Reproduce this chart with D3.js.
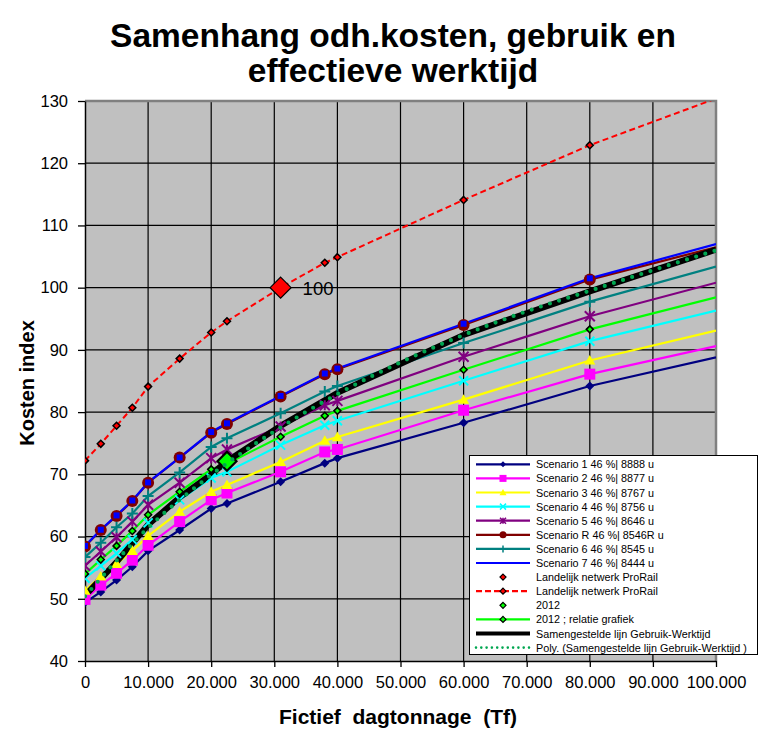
<!DOCTYPE html>
<html><head><meta charset="utf-8">
<script src="https://cdn.jsdelivr.net/npm/d3@7"></script>
<style>
html,body{margin:0;padding:0;background:#fff;}
svg{display:block;font-family:"Liberation Sans",Arial,sans-serif;}
</style></head>
<body>
<svg id="chart" width="766" height="746"></svg>
<script>
// ---------- DATA ----------
const xValues = [0, 2500, 5000, 7500, 10000, 15000, 20000, 22500, 31000, 38000, 40000, 60000, 80000, 100000];
const scenario1 = [49.4, 51.1, 53.0, 55.15, 57.7, 61.05, 64.5, 65.3, 68.8, 71.8, 72.6, 78.3, 84.2, 88.8];
const scenario2 = [49.9, 52.2, 54.1, 56.2, 58.6, 62.4, 65.9, 67.0, 70.4, 73.6, 74.0, 80.3, 86.1, 90.6];
const scenario3 = [51.3, 53.6, 55.6, 57.7, 60.1, 64.0, 67.2, 68.3, 72.0, 75.4, 76.0, 82.0, 88.3, 93.1];
const scenario4 = [53.3, 55.3, 57.3, 59.5, 62.2, 65.9, 69.4, 70.4, 74.7, 77.9, 78.6, 85.05, 91.4, 96.3];
const scenario5 = [55.3, 57.6, 59.9, 62.4, 65.1, 68.65, 72.6, 74.0, 77.7, 81.1, 81.8, 88.9, 95.4, 100.8];
const scenarioR = [58.4, 61.05, 63.3, 65.7, 68.65, 72.7, 76.7, 78.1, 82.5, 86.1, 86.9, 94.0, 101.3, 106.5];
const scenario6 = [56.7, 59.0, 61.5, 63.7, 66.5, 70.3, 74.4, 75.8, 79.8, 83.3, 84.2, 91.1, 97.75, 103.4];
const scenario7 = [58.5, 61.1, 63.4, 65.8, 68.7, 72.7, 76.8, 78.2, 82.6, 86.2, 87.0, 94.2, 101.5, 107.0];
const prorailLine = [72.2, 74.9, 77.8, 80.7, 84.1, 88.6, 92.8, 94.6, 100.0, 104.0, 104.9, 114.1, 122.9, 130.4];
const relatie2012 = [54.0, 56.3, 58.5, 60.9, 63.5, 67.2, 70.8, 71.7, 76.05, 79.4, 80.2, 86.8, 93.3, 98.45];
const prorailPoint = {x: 31000, y: 100, label: "100"};
const point2012 = {x: 22500, y: 72.1};
const samenX = [0, 5000, 10000, 15000, 20000, 22500, 31000, 40000, 60000, 80000, 100000];
const samenY = [50.5, 55.9, 61.9, 66.3, 70.0, 72.1, 77.8, 83.1, 92.4, 99.4, 106.1];
const polyX = [0, 10000, 20000, 30000, 40000, 50000, 60000, 70000, 80000, 90000, 100000];
const polyY = [50.4, 61.4, 69.9, 76.9, 82.9, 88.0, 92.4, 96.2, 99.5, 102.8, 106.0];
const xTicks = [0, 10000, 20000, 30000, 40000, 50000, 60000, 70000, 80000, 90000, 100000];
const xTickLabels = ["0","10.000","20.000","30.000","40.000","50.000","60.000","70.000","80.000","90.000","100.000"];
const yTicks = [40, 50, 60, 70, 80, 90, 100, 110, 120, 130];
const legendLabels = [
  "Scenario 1 46 %| 8888 u","Scenario 2 46 %| 8877 u","Scenario 3 46 %| 8767 u",
  "Scenario 4 46 %| 8756 u","Scenario 5 46 %| 8646 u","Scenario R 46 %| 8546R u",
  "Scenario 6 46 %| 8545 u","Scenario 7 46 %| 8444 u","Landelijk netwerk ProRail",
  "Landelijk netwerk ProRail","2012","2012 ; relatie grafiek",
  "Samengestelde lijn Gebruik-Werktijd","Poly. (Samengestelde lijn Gebruik-Werktijd )"];

// ---------- LAYOUT ----------
const svg = d3.select("#chart");
const L = 85, R = 716, T = 101, B = 661;
const x = d3.scaleLinear().domain([0, 100000]).range([L, R]);
const y = d3.scaleLinear().domain([40, 130]).range([B, T]);

function markerPath(type, s){
  const h = s/2;
  switch(type){
    case "diamond": return `M0,${-h}L${h},0L0,${h}L${-h},0Z`;
    case "square": return `M${-h},${-h}H${h}V${h}H${-h}Z`;
    case "triangle": return `M0,${-h}L${h},${h*0.75}L${-h},${h*0.75}Z`;
    case "x": return `M${-h},${-h}L${h},${h}M${h},${-h}L${-h},${h}`;
    case "star": return `M${-h},${-h}L${h},${h}M${h},${-h}L${-h},${h}M0,${-h}V${h}`;
    case "plus": return `M${-h},0H${h}M0,${-h}V${h}`;
    case "circle": return d3.symbol(d3.symbolCircle, Math.PI*h*h)();
  }
}
const isStroke = t => (t==="x"||t==="star"||t==="plus");

const series = [
  {vals: scenario1, color:"#000080", marker:"diamond", size:9},
  {vals: scenario2, color:"#ff00ff", marker:"square", size:11},
  {vals: scenario3, color:"#ffff00", marker:"triangle", size:11},
  {vals: scenario4, color:"#00ffff", marker:"x", size:9},
  {vals: scenario5, color:"#800080", marker:"star", size:10},
  {vals: scenarioR, color:"#800000", marker:"circle", size:12},
  {vals: scenario6, color:"#008080", marker:"plus", size:11},
  {vals: scenario7, color:"#0000ff", marker:"square", size:6},
  {vals: relatie2012, color:"#00ff00", marker:"diamond", size:7, outline:true},
];

// ---------- BACKGROUND / GRID ----------
svg.append("rect").attr("x",L).attr("y",T).attr("width",R-L).attr("height",B-T).attr("fill","#c0c0c0");
const grid = svg.append("g");
grid.selectAll("line.h").data(yTicks.filter(v=>v>40 && v<130)).join("line")
  .attr("x1",L).attr("x2",R).attr("y1",d=>y(d)).attr("y2",d=>y(d)).attr("stroke","#000").attr("stroke-width",1.2);
grid.selectAll("line.v").data(xTicks.filter(v=>v>0 && v<100000)).join("line")
  .attr("y1",T).attr("y2",B).attr("x1",d=>x(d)).attr("x2",d=>x(d)).attr("stroke","#000").attr("stroke-width",1.2);
svg.append("path").attr("d",`M${L},${T}H${R}V${B}`).attr("fill","none").attr("stroke","#808080").attr("stroke-width",2.5);

// ---------- AXES ----------
const yAxis = d3.axisLeft(y).tickValues(yTicks).tickSize(7).tickPadding(10).tickSizeOuter(0);
const gy = svg.append("g").attr("transform",`translate(${L},0)`).call(yAxis);
const xAxis = d3.axisBottom(x).tickValues(xTicks).tickSize(6).tickPadding(9).tickSizeOuter(0)
  .tickFormat((d,i)=>xTickLabels[i]);
const gx = svg.append("g").attr("transform",`translate(0,${B})`).call(xAxis);
[gy,gx].forEach(g=>{
  g.selectAll("path").attr("stroke","#000").attr("stroke-width",1.5);
  g.selectAll("line").attr("stroke","#000").attr("stroke-width",1.3);
  g.selectAll("text").attr("font-size",16.5).attr("fill","#000").attr("font-family","Liberation Sans, Arial, sans-serif");
});

// ---------- CLIP ----------
svg.append("clipPath").attr("id","plotclip").append("rect").attr("x",L).attr("y",T).attr("width",R-L).attr("height",B-T);
const plot = svg.append("g").attr("clip-path","url(#plotclip)");

const lineGen = d3.line().x(d=>x(d[0])).y(d=>y(d[1]));

series.forEach(s=>{
  plot.append("path").datum(xValues.map((xv,i)=>[xv,s.vals[i]]))
    .attr("d",lineGen).attr("fill","none").attr("stroke",s.color).attr("stroke-width",2.2);
});
plot.append("path").datum(xValues.map((xv,i)=>[xv,prorailLine[i]]))
  .attr("d",lineGen).attr("fill","none").attr("stroke","#ff0000").attr("stroke-width",2).attr("stroke-dasharray","6,3.5");
plot.append("path").datum(samenX.map((xv,i)=>[xv,samenY[i]]))
  .attr("d",lineGen).attr("fill","none").attr("stroke","#000").attr("stroke-width",6);

// markers (last point at 100000 is the line's end at the axis edge: no marker)
function drawMarkers(g, pts, type, size, fill, stroke, sw){
  g.selectAll(null).data(pts).join("path")
    .attr("transform",d=>`translate(${x(d[0])},${y(d[1])})`)
    .attr("d",markerPath(type,size))
    .attr("fill", isStroke(type)?"none":fill)
    .attr("stroke", isStroke(type)?fill:(stroke||"none"))
    .attr("stroke-width", isStroke(type)?2:(sw||0));
}
const mk = plot.append("g");
series.forEach(s=>{
  const pts = xValues.map((xv,i)=>[xv,s.vals[i]]).filter(d=>d[0]<100000);
  drawMarkers(mk, pts, s.marker, s.size, s.color, s.outline?"#000":null, s.outline?1.5:0);
});
drawMarkers(mk, xValues.map((xv,i)=>[xv,prorailLine[i]]).filter(d=>d[0]<100000), "diamond", 7, "#ff0000", "#000", 1.5);
drawMarkers(mk, [[point2012.x, point2012.y]], "diamond", 19, "#00ff00", "#000", 2.2);
drawMarkers(mk, [[prorailPoint.x, prorailPoint.y]], "diamond", 21, "#ff0000", "#000", 1.2);
svg.append("text").attr("x",x(prorailPoint.x)+22).attr("y",y(prorailPoint.y)+7)
  .attr("font-size",18.5).attr("fill","#000").text(prorailPoint.label);

plot.append("path").datum(polyX.map((xv,i)=>[xv,polyY[i]]))
  .attr("d",lineGen.curve(d3.curveMonotoneX)).attr("fill","none").attr("stroke","#00a650")
  .attr("stroke-width",4.2).attr("stroke-linecap","round").attr("stroke-dasharray","0 9.6");

// ---------- TITLES ----------
svg.append("text").attr("x",393).attr("y",47).attr("text-anchor","middle")
  .attr("font-size",33.5).attr("font-weight","bold").text("Samenhang odh.kosten, gebruik en");
svg.append("text").attr("x",393).attr("y",82).attr("text-anchor","middle")
  .attr("font-size",33.5).attr("font-weight","bold").text("effectieve werktijd");
svg.append("text").attr("x",398).attr("y",724).attr("text-anchor","middle")
  .attr("font-size",21).attr("font-weight","bold").attr("xml:space","preserve").text("Fictief  dagtonnage  (Tf)");
svg.append("text").attr("transform","translate(34,383) rotate(-90)").attr("text-anchor","middle")
  .attr("font-size",20).attr("font-weight","bold").text("Kosten index");

// ---------- LEGEND ----------
const lg = svg.append("g");
lg.append("rect").attr("x",469.5).attr("y",455.5).attr("width",288).attr("height",199)
  .attr("fill","#fff").attr("stroke","#000").attr("stroke-width",1);
const legendItems = [
  {line:"#000080", marker:"diamond", size:6, fill:"#000080"},
  {line:"#ff00ff", marker:"square", size:7, fill:"#ff00ff"},
  {line:"#ffff00", marker:"triangle", size:7, fill:"#ffff00"},
  {line:"#00ffff", marker:"x", size:6, fill:"#00ffff"},
  {line:"#800080", marker:"star", size:6, fill:"#800080"},
  {line:"#800000", marker:"circle", size:7, fill:"#800000"},
  {line:"#008080", marker:"plus", size:7, fill:"#008080"},
  {line:"#0000ff"},
  {marker:"diamond", size:6, fill:"#ff0000", stroke:"#000"},
  {line:"#ff0000", dash:"6,3", marker:"diamond", size:6, fill:"#ff0000", stroke:"#000"},
  {marker:"diamond", size:6, fill:"#00ff00", stroke:"#000"},
  {line:"#00ff00", marker:"diamond", size:6, fill:"#00ff00", stroke:"#000"},
  {line:"#000", width:4},
  {line:"#00a650", width:2.6, dash:"0 5.3", cap:"round"},
];
legendItems.forEach((it,i)=>{
  const cy = 464.3 + i*14.1;
  const g = lg.append("g");
  if(it.line){
    g.append("line").attr("x1",476).attr("x2",530).attr("y1",cy).attr("y2",cy)
      .attr("stroke",it.line).attr("stroke-width",it.width||2.2)
      .attr("stroke-dasharray",it.dash||null).attr("stroke-linecap",it.cap||"butt");
  }
  if(it.marker){
    g.append("path").attr("transform",`translate(503,${cy})`).attr("d",markerPath(it.marker,it.size))
      .attr("fill",isStroke(it.marker)?"none":it.fill)
      .attr("stroke",isStroke(it.marker)?it.fill:(it.stroke||"none"))
      .attr("stroke-width",isStroke(it.marker)?1.5:(it.stroke?1.2:0));
  }
  g.append("text").attr("x",536).attr("y",cy+4).attr("font-size",10.8).attr("fill","#000").text(legendLabels[i]);
});
</script>
</body></html>
